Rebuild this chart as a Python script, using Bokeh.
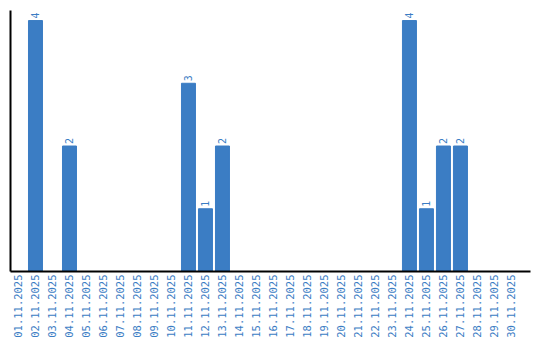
from bokeh.plotting import figure
from bokeh.models import ColumnDataSource, Range1d, FixedTicker
from bokeh.embed import file_html
from bokeh.resources import INLINE
from bokeh.core.properties import value
import math

dates = ["%02d.11.2025" % d for d in range(1, 31)]
counts = [0, 4, 0, 2, 0, 0, 0, 0, 0, 0,
          3, 1, 2, 0, 0, 0, 0, 0, 0, 0,
          0, 0, 0, 4, 1, 2, 2, 0, 0, 0]

BLUE = "#3b7dc4"
xs = list(range(1, len(dates) + 1))

p = figure(width=540, height=340, output_backend="svg", toolbar_location=None,
           x_range=Range1d(0.53, 31.12), y_range=Range1d(0, 4.16),
           min_border_left=10, min_border_right=10, min_border_top=10, min_border_bottom=0)
p.outline_line_color = None
p.xgrid.visible = False
p.ygrid.visible = False

src = ColumnDataSource(dict(x=xs, y=counts))
p.vbar(x="x", top="y", width=14/17, color=BLUE, source=src)

nz = [i for i, c in enumerate(counts) if c > 0]
lab = ColumnDataSource(dict(x=[xs[i] for i in nz], y=[counts[i] for i in nz],
                            t=[str(counts[i]) for i in nz]))
p.text(x="x", y="y", text="t", source=lab, angle=math.pi/2, y_offset=-2,
       text_align="left", text_baseline="middle", text_color=BLUE,
       text_font=value("DejaVu Sans Mono"), text_font_size="10px")

xa = p.xaxis[0]
xa.ticker = FixedTicker(ticks=xs)
xa.major_label_overrides = {x: d for x, d in zip(xs, dates)}
xa.major_label_orientation = math.pi / 2
xa.major_tick_line_color = None
xa.minor_tick_line_color = None
xa.major_tick_out = 0
xa.major_tick_in = 0
xa.major_label_text_color = BLUE
xa.major_label_text_font = "DejaVu Sans Mono"
xa.major_label_text_font_size = "10.5px"
xa.major_label_standoff = 3
xa.axis_line_color = "black"
xa.axis_line_width = 2

ya = p.yaxis[0]
ya.ticker = FixedTicker(ticks=[])
ya.major_tick_line_color = None
ya.minor_tick_line_color = None
ya.major_tick_out = 0
ya.major_tick_in = 0
ya.major_label_standoff = 0
ya.axis_line_color = "black"
ya.axis_line_width = 2

open("out.html", "w").write(file_html(p, INLINE))
